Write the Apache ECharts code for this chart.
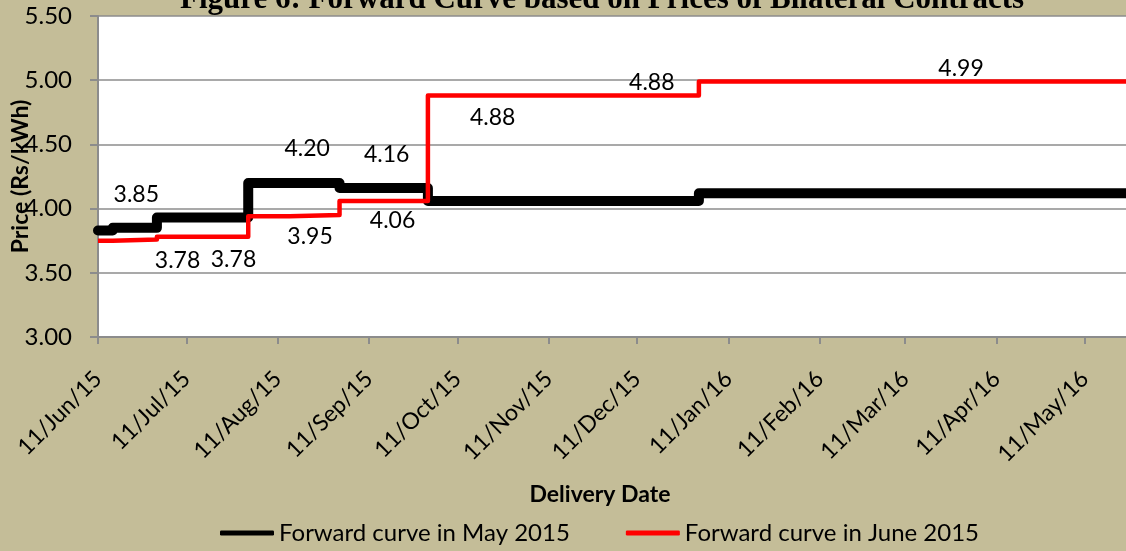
<!DOCTYPE html>
<html>
<head>
<meta charset="utf-8">
<script src="https://cdn.jsdelivr.net/npm/echarts@6/dist/echarts.min.js"></script>
<style>
  html, body { margin: 0; padding: 0; background: #c4bd98; }
  #chart { width: 1126px; height: 551px; }
</style>
</head>
<body>
<div id="chart"></div>
<script>
// forward curve data (price changes by delivery date)
const mayDates = ['2015-06-11', '2015-06-16', '2015-07-01', '2015-08-01', '2015-09-01', '2015-10-01', '2016-01-01', '2016-05-25'];
const mayPrices = [3.83, 3.85, 3.93, 4.20, 4.16, 4.06, 4.12, 4.12];
const juneDates = ['2015-06-11', '2015-06-16', '2015-07-01', '2015-08-01', '2015-08-15', '2015-09-01', '2015-10-01', '2016-01-01', '2016-05-25'];
const junePrices = [3.75, 3.76, 3.78, 3.94, 3.95, 4.06, 4.88, 4.99, 4.99];

// value labels written on the chart
const mayLabelDates = ['2015-06-24', '2015-08-21', '2015-09-17'];
const mayLabelPrices = [3.85, 4.20, 4.16];
const juneLabelDates = ['2015-07-08', '2015-07-27', '2015-08-22', '2015-09-19', '2015-10-23', '2015-12-16', '2016-03-30'];
const juneLabelPrices = [3.78, 3.78, 3.95, 4.06, 4.88, 4.88, 4.99];

const tickDates = ['2015-06-11', '2015-07-11', '2015-08-11', '2015-09-11', '2015-10-11', '2015-11-11',
    '2015-12-11', '2016-01-11', '2016-02-11', '2016-03-11', '2016-04-11', '2016-05-11'];
const monthNames = ['Jan', 'Feb', 'Mar', 'Apr', 'May', 'Jun', 'Jul', 'Aug', 'Sep', 'Oct', 'Nov', 'Dec'];

const toTime = (s) => {
    const [y, m, d] = s.split('-').map(Number);
    return new Date(y, m - 1, d).getTime();
};
const fmtDate = (v) => {
    const d = new Date(v);
    return d.getDate() + '/' + monthNames[d.getMonth()] + '/' + String(d.getFullYear()).slice(2);
};

const font = 'Lato';
const axisGrey = '#8c8c8c';

// label offsets (px, vertical) for each value label
const mayOffsets = [-33, -34, -33];
const juneOffsets = [24, 23, 22, 20, 22, -13, -13];

const makeMarks = (dates, prices, offsets) => dates.map((d, i) => ({
    coord: [toTime(d), prices[i]],
    value: prices[i],
    label: { offset: [0, offsets[i]] }
}));

const markStyle = {
    symbol: 'rect',
    symbolSize: 1,
    itemStyle: { color: 'transparent' },
    label: {
        show: true,
        position: 'inside',
        color: '#000',
        fontFamily: font,
        fontSize: 23,
        formatter: (p) => p.value.toFixed(2)
    }
};

const myChart = echarts.init(document.getElementById('chart'));

const option = {
    animation: false,
    backgroundColor: '#c4bd98',
    title: {
        text: 'Figure 6: Forward Curve based on Prices of Bilateral Contracts',
        left: 175,
        top: -21,
        textStyle: {
            fontFamily: 'Liberation Serif',
            fontWeight: 'bold',
            fontSize: 31,
            color: '#000'
        }
    },
    grid: {
        left: 98,
        right: 0,
        top: 16,
        bottom: 214,
        outerBoundsMode: 'none',
        show: true,
        backgroundColor: '#fff',
        borderWidth: 0
    },
    legend: {
        left: 215,
        top: 516,
        icon: 'roundRect',
        itemWidth: 54,
        itemHeight: 5,
        itemGap: 56,
        textStyle: { fontFamily: font, fontSize: 24, color: '#000' },
        data: ['Forward curve in May 2015', 'Forward curve in June 2015']
    },
    xAxis: {
        // dates as timestamps on a linear axis, ticks on the 11th of each month
        type: 'value',
        min: toTime('2015-06-11'),
        max: toTime('2016-05-25'),
        name: 'Delivery Date',
        nameLocation: 'middle',
        nameGap: 146,
        nameTextStyle: {
            fontFamily: font, fontWeight: 'bold', fontSize: 23, color: '#000',
            padding: [0, 24, 0, 0]
        },
        axisLine: { show: true, lineStyle: { color: axisGrey, width: 2 } },
        axisTick: {
            show: true,
            length: 7,
            lineStyle: { color: axisGrey, width: 2 },
            customValues: tickDates.map(toTime)
        },
        axisLabel: {
            rotate: 45,
            margin: 38,
            fontFamily: font,
            fontSize: 23,
            color: '#000',
            customValues: tickDates.map(toTime),
            formatter: fmtDate
        },
        splitLine: { show: false }
    },
    yAxis: {
        type: 'value',
        min: 3,
        max: 5.5,
        interval: 0.5,
        name: 'Price (Rs/kWh)',
        nameLocation: 'middle',
        nameGap: 66,
        nameMoveOverlap: false,
        nameTextStyle: { fontFamily: font, fontWeight: 'bold', fontSize: 23, color: '#000' },
        axisLine: { show: true, lineStyle: { color: axisGrey, width: 2 } },
        axisTick: { show: true, length: 8, lineStyle: { color: axisGrey, width: 2 } },
        axisLabel: {
            margin: 26,
            fontFamily: font,
            fontSize: 24,
            color: '#000',
            formatter: (v) => v.toFixed(2)
        },
        splitLine: { show: true, lineStyle: { color: axisGrey, width: 1.5 } }
    },
    series: [
        {
            name: 'Forward curve in May 2015',
            type: 'line',
            step: 'end',
            symbol: 'none',
            lineStyle: { color: '#000', width: 10, join: 'round', cap: 'round' },
            itemStyle: { color: '#000' },
            data: mayDates.map((d, i) => [toTime(d), mayPrices[i]]),
            markPoint: Object.assign({}, markStyle, {
                data: makeMarks(mayLabelDates, mayLabelPrices, mayOffsets)
            })
        },
        {
            name: 'Forward curve in June 2015',
            type: 'line',
            step: 'end',
            symbol: 'none',
            lineStyle: { color: '#ff0000', width: 4.5, join: 'round' },
            itemStyle: { color: '#ff0000' },
            data: juneDates.map((d, i) => [toTime(d), junePrices[i]]),
            markPoint: Object.assign({}, markStyle, {
                data: makeMarks(juneLabelDates, juneLabelPrices, juneOffsets)
            })
        }
    ]
};

myChart.setOption(option);
</script>
</body>
</html>
